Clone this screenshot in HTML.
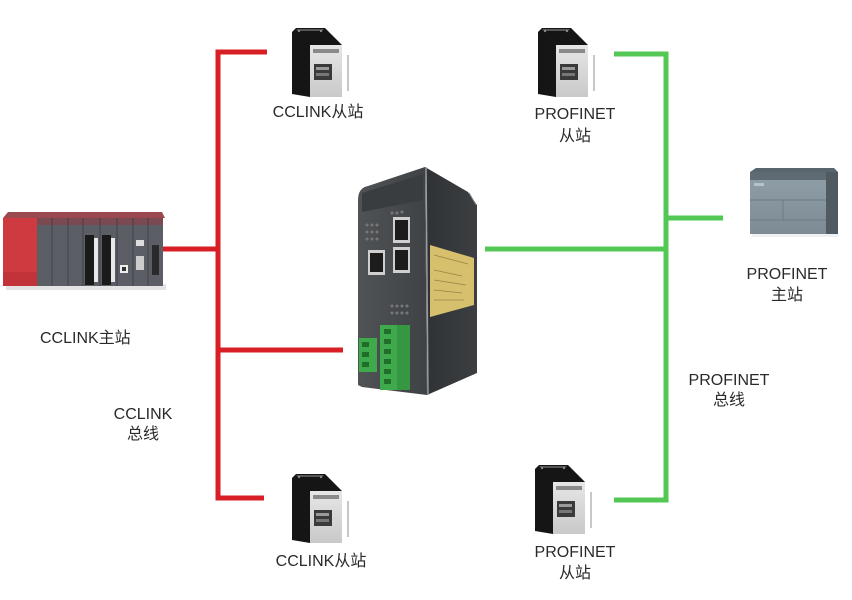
<!DOCTYPE html>
<html>
<head>
<meta charset="utf-8">
<style>
html,body{margin:0;padding:0;background:#fff;}
svg{display:block;}
text{font-family:"Liberation Sans","Noto Sans CJK SC",sans-serif;font-size:16px;fill:#2a2a2a;}
</style>
</head>
<body>
<svg width="852" height="600" viewBox="0 0 852 600" xmlns="http://www.w3.org/2000/svg">
<defs>
  <linearGradient id="panel" x1="0" y1="0" x2="0" y2="1">
    <stop offset="0" stop-color="#e6e6e6"/>
    <stop offset="1" stop-color="#c9c9c9"/>
  </linearGradient>
  <linearGradient id="gwside" x1="0" y1="0" x2="1" y2="0">
    <stop offset="0" stop-color="#2f3234"/>
    <stop offset="1" stop-color="#3c3f42"/>
  </linearGradient>
  <linearGradient id="gwfront" x1="0" y1="0" x2="1" y2="0">
    <stop offset="0" stop-color="#505356"/>
    <stop offset="1" stop-color="#3f4245"/>
  </linearGradient>
  <linearGradient id="siem" x1="0" y1="0" x2="0" y2="1">
    <stop offset="0" stop-color="#909fa8"/>
    <stop offset="1" stop-color="#7c8b94"/>
  </linearGradient>
  <g id="servo">
    <polygon points="0,4 4,0 33,0 50,17 50,69 18,69 0,66" fill="#151515"/>
    <polygon points="4,1 32,1 30,3 6,3" fill="#555"/>
    <circle cx="7" cy="3" r="1.2" fill="#888"/>
    <circle cx="29" cy="3" r="1.2" fill="#888"/>
    <rect x="18" y="17" width="32" height="52" fill="url(#panel)"/>
    <rect x="21" y="21" width="26" height="4" fill="#8a8a8a"/>
    <rect x="22" y="36" width="18" height="16" fill="#3a3a3a"/>
    <rect x="24" y="39" width="13" height="3" fill="#9a9a9a"/>
    <rect x="24" y="45" width="13" height="3" fill="#777"/>
    <rect x="55" y="27" width="2" height="36" fill="#c8c8c8"/>
  </g>
</defs>

<!-- RED CCLINK bus -->
<g stroke="#d91f26" stroke-width="5" fill="none" stroke-linecap="butt">
  <polyline points="267,52 218,52 218,498 264,498"/>
  <line x1="163" y1="249" x2="218" y2="249"/>
  <line x1="218" y1="350" x2="343" y2="350"/>
</g>

<!-- GREEN PROFINET bus -->
<g stroke="#52c754" stroke-width="5" fill="none">
  <polyline points="614,54 666,54 666,500 614,500"/>
  <line x1="666" y1="218" x2="723" y2="218"/>
  <line x1="485" y1="249" x2="666" y2="249"/>
</g>

<!-- Left PLC (CCLINK master) -->
<g>
  <rect x="6" y="284" width="160" height="6" fill="#e4e4e4"/>
  <polygon points="3,218 8,212 162,212 165,218" fill="#9a4a4e"/>
  <rect x="3" y="218" width="34" height="68" fill="#cf3a40"/>
  <rect x="37" y="218" width="126" height="68" fill="#5b5e64"/>
  <rect x="37" y="218" width="126" height="7" fill="#7a4a50"/>
  <g stroke="#3f4247" stroke-width="1">
    <line x1="52" y1="218" x2="52" y2="286"/>
    <line x1="68" y1="218" x2="68" y2="286"/>
    <line x1="83" y1="218" x2="83" y2="286"/>
    <line x1="100" y1="218" x2="100" y2="286"/>
    <line x1="117" y1="218" x2="117" y2="286"/>
    <line x1="133" y1="218" x2="133" y2="286"/>
    <line x1="148" y1="218" x2="148" y2="286"/>
  </g>
  <rect x="85" y="235" width="9" height="50" fill="#1a1a1a"/>
  <rect x="94" y="238" width="4" height="44" fill="#e8e8e8"/>
  <rect x="102" y="235" width="9" height="50" fill="#1a1a1a"/>
  <rect x="111" y="238" width="4" height="44" fill="#e8e8e8"/>
  <rect x="120" y="265" width="8" height="8" fill="#eee"/>
  <rect x="122" y="267" width="4" height="4" fill="#333"/>
  <rect x="136" y="240" width="8" height="6" fill="#ddd"/>
  <rect x="136" y="256" width="8" height="14" fill="#ccc"/>
  <rect x="152" y="245" width="7" height="30" fill="#2a2a2a"/>
  <rect x="3" y="272" width="34" height="14" fill="#c23339"/>
</g>

<!-- Gateway -->
<g>
  <polygon points="425,167 468,192 477,205 477,373 427,395" fill="url(#gwside)"/>
  <path d="M358,200 Q358,188 368,186 L425,167 L427,395 L362,387 L358,385 Z" fill="url(#gwfront)"/>
  <path d="M362,193 L423,174 L423,200 L362,212 Z" fill="#3a3d40"/>
  <line x1="426" y1="167" x2="428" y2="395" stroke="#9a9da0" stroke-width="1.5"/>
  <line x1="469" y1="193" x2="476" y2="205" stroke="#777" stroke-width="1"/>
  <!-- LEDs -->
  <g fill="#777">
    <circle cx="392" cy="213" r="1.5"/><circle cx="397" cy="213" r="1.5"/><circle cx="402" cy="212" r="1.5"/>
    <circle cx="367" cy="225" r="1.5"/><circle cx="372" cy="225" r="1.5"/><circle cx="377" cy="225" r="1.5"/>
    <circle cx="367" cy="232" r="1.5"/><circle cx="372" cy="232" r="1.5"/><circle cx="377" cy="232" r="1.5"/>
    <circle cx="367" cy="239" r="1.5"/><circle cx="372" cy="239" r="1.5"/><circle cx="377" cy="239" r="1.5"/>
    <circle cx="392" cy="306" r="1.5"/><circle cx="397" cy="306" r="1.5"/><circle cx="402" cy="306" r="1.5"/><circle cx="407" cy="306" r="1.5"/>
    <circle cx="392" cy="313" r="1.5"/><circle cx="397" cy="313" r="1.5"/><circle cx="402" cy="313" r="1.5"/><circle cx="407" cy="313" r="1.5"/>
  </g>
  <!-- RJ45 ports -->
  <rect x="393" y="217" width="17" height="26" fill="#cfcfcf"/>
  <rect x="395" y="220" width="13" height="20" fill="#1c1c1c"/>
  <rect x="393" y="247" width="17" height="26" fill="#cfcfcf"/>
  <rect x="395" y="250" width="13" height="20" fill="#1c1c1c"/>
  <rect x="368" y="250" width="17" height="25" fill="#cfcfcf"/>
  <rect x="370" y="253" width="13" height="19" fill="#1c1c1c"/>
  <!-- Terminals -->
  <rect x="359" y="338" width="18" height="34" fill="#3faa4b"/>
  <rect x="380" y="325" width="30" height="65" fill="#3faa4b"/>
  <g fill="#1f6f2a">
    <rect x="362" y="342" width="7" height="5"/><rect x="362" y="352" width="7" height="5"/><rect x="362" y="362" width="7" height="5"/>
    <rect x="384" y="329" width="7" height="5"/><rect x="384" y="339" width="7" height="5"/><rect x="384" y="349" width="7" height="5"/>
    <rect x="384" y="359" width="7" height="5"/><rect x="384" y="369" width="7" height="5"/><rect x="384" y="379" width="7" height="5"/>
  </g>
  <rect x="397" y="325" width="13" height="65" fill="#2f8a3b" opacity="0.6"/>
  <!-- Yellow label -->
  <polygon points="430,245 474,258 474,305 430,317" fill="#d6c06e"/>
  <g stroke="#9a8240" stroke-width="0.8">
    <line x1="434" y1="255" x2="468" y2="264"/>
    <line x1="434" y1="270" x2="462" y2="276"/>
    <line x1="434" y1="280" x2="466" y2="285"/>
    <line x1="434" y1="290" x2="462" y2="293"/>
    <line x1="434" y1="300" x2="464" y2="300"/>
  </g>
</g>

<!-- Siemens PLC -->
<g>
  <rect x="752" y="233" width="86" height="4" fill="#eef0f1"/>
  <rect x="750" y="172" width="88" height="62" fill="url(#siem)"/>
  <polygon points="750,172 756,168 834,168 838,172" fill="#5a666e"/>
  <rect x="750" y="172" width="88" height="8" fill="#5e6b73"/>
  <rect x="826" y="172" width="12" height="62" fill="#4f5a61"/>
  <line x1="750" y1="200" x2="826" y2="200" stroke="#6d7b84" stroke-width="1"/>
  <line x1="750" y1="220" x2="826" y2="220" stroke="#6d7b84" stroke-width="1"/>
  <line x1="783" y1="200" x2="783" y2="220" stroke="#6d7b84" stroke-width="1"/>
  <rect x="754" y="183" width="10" height="3" fill="#b5c3cc"/>
</g>

<!-- Servo drives -->
<use href="#servo" x="292" y="28"/>
<use href="#servo" x="538" y="28"/>
<use href="#servo" x="292" y="474"/>
<use href="#servo" x="535" y="465"/>

<!-- Labels -->
<text x="318" y="117" text-anchor="middle">CCLINK从站</text>
<text x="575" y="119" text-anchor="middle">PROFINET</text>
<text x="575" y="141" text-anchor="middle">从站</text>
<text x="40" y="343">CCLINK主站</text>
<text x="143" y="419" text-anchor="middle">CCLINK</text>
<text x="143" y="439" text-anchor="middle">总线</text>
<text x="787" y="279" text-anchor="middle">PROFINET</text>
<text x="787" y="300" text-anchor="middle">主站</text>
<text x="729" y="385" text-anchor="middle">PROFINET</text>
<text x="729" y="405" text-anchor="middle">总线</text>
<text x="321" y="566" text-anchor="middle">CCLINK从站</text>
<text x="575" y="557" text-anchor="middle">PROFINET</text>
<text x="575" y="578" text-anchor="middle">从站</text>
</svg>
</body>
</html>
